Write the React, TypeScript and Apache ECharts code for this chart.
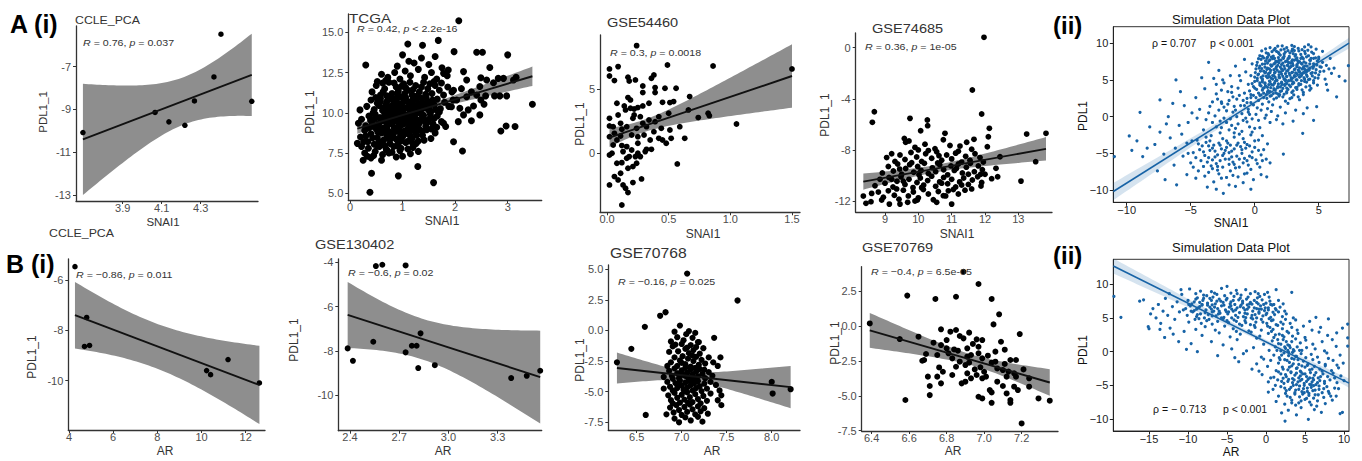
import React, { useEffect, useRef } from 'react';
import * as echarts from 'echarts';

// ---------------- DATA ----------------
// A(i) CCLE_PCA : SNAI1 vs PDL1_1
const A1_SNAI1 = [3.696, 4.066, 4.137, 4.219, 4.268, 4.368, 4.404, 4.562];
const A1_PDL1 = [-10.08, -9.14, -9.58, -9.74, -8.6, -7.48, -5.48, -8.62];

// A(i) TCGA : [SNAI1, PDL1_1]
const A2_POINTS = [
  [2.07,15.72],[1.10,14.28],[1.38,14.2],[1.68,14.5],[0.30,12.97],[1.98,13.8],[2.41,13.76],[2.52,13.76],[3.0,13.6],[3.47,10.53],
  [2.97,9.18],[2.87,8.87],[1.97,8.2],[2.14,7.63],[1.29,6.66],[0.92,6.08],[1.59,5.66],[0.38,5.06],[0.41,6.24],[0.14,8.1],
  [0.19,10.18],[0.16,9.35],[2.66,12.81],[2.16,12.56],[3.14,9.15],
  [2.49,12.18],[2.60,12.04],[2.82,12.14],[2.73,11.87],[2.92,12.14],[3.11,12.04],[3.16,12.2],[2.47,11.63],[2.58,11.05],[2.75,11.05],
  [2.85,11.05],[2.98,11.05],[2.49,10.8],[2.55,10.53],[2.35,10.42],[2.25,10.18],[2.47,9.87],[2.31,9.51],[2.16,9.87],[2.06,9.45],
  [1.78,9.35],[2.22,11.0],[2.31,11.3],[2.41,11.1],[2.12,11.5],[2.22,12.04],[1.97,11.4],[2.03,10.8],[1.93,10.38],[2.09,10.28],
  [1.87,12.66],[1.78,12.45],
  [0.6,12.4],[0.72,12.2],[0.85,12.5],[0.95,12.1],[1.05,12.6],[1.15,12.3],[1.3,12.7],[1.42,12.2],[1.55,12.5],[1.65,12.1],
  [1.75,12.8],[0.9,12.9],[1.22,13.1],[1.5,13.0],[1.36,13.4],[1.62,13.5],[1.0,13.6],[1.12,13.2],[0.68,12.0],[1.85,12.3],
  [0.42,11.3],[0.5,11.7],[0.58,11.1],[0.66,11.5],[0.74,11.9],[0.8,11.2],[0.88,11.6],[0.96,11.0],[1.02,11.8],[1.1,11.4],
  [1.18,11.1],[1.25,11.7],[1.32,11.3],[1.4,11.9],[1.48,11.5],[1.56,11.2],[1.62,11.7],[1.7,11.4],[1.78,11.1],[1.86,11.6],
  [1.94,11.3],[0.52,11.95],[0.7,11.05],[0.92,11.35],[1.06,11.55],[1.28,11.05],[1.44,11.15],[1.6,11.95],[0.62,11.85],[1.14,11.9],
  [1.36,11.6],[0.84,11.85],[1.52,11.8],[1.74,11.85],[1.2,11.45],[0.98,11.65],
  [0.32,10.4],[0.4,10.8],[0.46,10.2],[0.52,10.6],[0.58,10.9],[0.64,10.3],[0.7,10.7],[0.76,10.1],[0.82,10.5],[0.88,10.9],
  [0.94,10.2],[1.0,10.6],[1.06,10.95],[1.12,10.35],[1.18,10.75],[1.24,10.15],[1.3,10.55],[1.36,10.9],[1.42,10.3],[1.48,10.7],
  [1.54,10.1],[1.6,10.5],[1.66,10.85],[1.72,10.25],[1.8,10.65],[1.88,10.4],[1.96,10.8],[0.55,10.45],[0.67,10.05],[0.79,10.85],
  [0.91,10.6],[1.03,10.25],[1.15,10.1],[1.27,10.85],[1.39,10.6],[1.51,10.45],[1.63,10.2],[0.73,10.4],[0.97,10.45],[1.21,10.5],
  [1.45,10.95],[0.49,10.95],[0.85,10.25],[1.09,10.7],[1.33,10.25],[1.57,10.8],
  [0.22,9.6],[0.3,9.2],[0.36,9.8],[0.42,9.4],[0.48,9.9],[0.54,9.1],[0.6,9.5],[0.66,9.85],[0.72,9.25],[0.78,9.65],
  [0.84,9.05],[0.9,9.45],[0.96,9.9],[1.02,9.3],[1.08,9.7],[1.14,9.1],[1.2,9.55],[1.26,9.95],[1.32,9.35],[1.38,9.75],
  [1.44,9.15],[1.5,9.6],[1.58,9.3],[1.66,9.8],[1.74,9.45],[1.82,9.15],[0.45,9.15],[0.57,9.7],[0.69,9.4],[0.81,9.95],
  [0.93,9.2],[1.05,9.5],[1.17,9.85],[1.29,9.15],[1.41,9.5],[0.63,9.05],[0.87,9.75],[1.11,9.35],[1.35,9.95],[0.75,9.5],
  [0.99,9.6],[1.23,9.25],[0.39,9.55],[1.53,9.9],
  [0.2,8.5],[0.28,8.9],[0.34,8.2],[0.4,8.7],[0.46,8.05],[0.52,8.45],[0.58,8.85],[0.64,8.3],[0.7,8.6],[0.76,8.1],
  [0.82,8.75],[0.88,8.35],[0.94,8.95],[1.0,8.5],[1.06,8.15],[1.12,8.7],[1.18,8.4],[1.24,8.9],[1.3,8.25],[1.38,8.6],
  [1.46,8.95],[1.54,8.4],[1.62,8.75],[0.55,8.15],[0.67,8.95],[0.79,8.45],[0.91,8.05],[1.03,8.85],[1.15,8.55],[1.27,8.6],
  [0.43,8.45],[0.73,8.85],[0.97,8.25],[1.09,8.95],[1.2,8.05],
  [0.22,7.9],[0.28,7.5],[0.35,7.8],[0.4,7.2],[0.48,7.6],[0.56,7.9],[0.62,7.4],[0.7,7.7],[0.8,7.55],[0.9,7.95],
  [1.0,7.3],[1.1,7.75],[1.2,7.85],[1.3,7.6],[0.25,7.05],[0.45,7.35],[0.66,7.95],[0.95,7.65],[1.15,7.45],[0.33,7.3]
];
const A2_CORE = [
  [0.5,9.0],[0.55,9.35],[0.6,8.75],[0.62,10.15],[0.65,9.6],[0.68,10.5],[0.7,9.05],[0.72,8.45],[0.74,9.85],[0.77,10.25],
  [0.8,9.3],[0.82,8.6],[0.85,10.7],[0.86,9.55],[0.88,10.05],[0.9,8.85],[0.92,9.65],[0.94,10.4],[0.96,8.55],[0.98,9.25],
  [1.0,10.0],[1.01,9.4],[1.03,10.75],[1.05,8.7],[1.07,9.85],[1.08,10.3],[1.1,9.0],[1.12,9.6],[1.14,10.55],[1.16,8.9],
  [1.18,9.3],[1.2,10.2],[1.22,9.75],[1.25,8.75],[1.27,10.4],[1.29,9.55],[1.31,9.0],[1.34,10.05],[1.37,8.85],[1.4,9.85],
  [1.43,10.45],[1.46,9.35],[1.5,10.15],[1.55,9.0],[0.58,10.7],[0.63,11.3],[0.78,11.0],[0.9,11.2],[1.04,11.2],[1.22,10.95],
  [0.47,9.65],[0.53,8.8],[0.6,8.2],[0.69,7.7],[0.83,7.9],[0.97,7.8],[1.11,8.25],[1.26,8.1],[1.41,8.3],[1.6,9.65],
  [1.7,10.05],[1.65,9.1],[0.44,10.0],[0.36,9.05],[0.3,8.55],[0.26,8.2],[0.52,7.95],[0.74,7.5],[0.88,7.25],[0.6,7.05]
];

// A(i) GSE54460
const A3_POINTS = [
  [0.02,6.59],[0.02,6.04],[0.09,6.77],[0.06,5.68],[0.02,2.73],[0.02,2.14],[0.02,1.3],[0.24,8.41],[0.49,6.9],[0.86,6.82],
  [1.50,6.59],[1.05,2.29],[0.56,5.08],[0.67,4.43],[0.54,4.04],[0.66,3.39],[0.74,2.79],[0.82,3.13],[0.83,2.94],[0.63,1.17],
  [0.57,-0.83],[0.12,-4.04],[0.02,-2.47],[0.15,-2.73],[0.17,-3.07],[0.21,-2.29],[0.28,-2.0],[0.45,3.98],[0.5,3.13],[0.45,1.04],
  [0.48,0.78],[0.36,0.31],[0.31,0.13],[0.38,6.12],[0.36,5.86],[0.39,5.13],[0.39,4.74],[0.29,5.26],[0.23,5.73],[0.17,5.94],
  [0.18,5.65],[0.34,3.91],[0.29,3.7],[0.25,3.57],[0.22,3.46],[0.19,3.52],[0.15,3.39],[0.17,4.35],[0.14,3.7],[0.09,2.99],
  [0.11,2.34],[0.12,1.88],[0.16,2.08],[0.24,1.95],[0.29,2.34],[0.32,2.08],[0.39,2.47],[0.3,1.43],[0.25,1.3],[0.2,1.43],
  [0.06,1.56],[0.08,1.04],[0.12,0.6],[0.16,0.52],[0.2,0.26],[0.25,0.0],[0.23,-0.26],[0.16,-0.39],[0.12,-0.73],[0.08,-0.78],
  [0.17,-1.17],[0.21,-1.04],[0.11,-1.56],[0.06,-1.82],[0.09,-2.08],[0.13,0.13],[0.04,0.0],[0.02,-0.13],[0.32,0.31],[0.27,-0.26],
  [0.35,1.04],[0.38,1.69],[0.42,1.17],[0.44,1.95],[0.51,1.82],[0.52,1.17],[0.59,2.08],[0.51,3.96],[0.27,2.86],[0.21,2.73],
  [0.34,2.6],[0.05,0.65],[0.25,0.78],[0.11,1.35],[0.18,-0.26],[0.24,-0.78],[0.13,-2.47],[0.19,4.17],[0.22,2.99],[0.29,4.74],
  [0.08,3.91],[0.05,2.08],[0.42,2.86],[0.47,5.08]
];

// A(i) GSE74685
const A4_POINTS = [
  [11.97,0.81],[11.62,-3.31],[8.68,-5.01],[8.62,-5.84],[9.75,-5.53],[11.9,-5.19],[12.13,-6.31],[12.1,-6.97],[11.67,-7.17],[10.27,-5.66],
  [10.28,-6.1],[10.07,-6.5],[10.8,-6.7],[9.58,-7.1],[9.72,-7.3],[13.83,-6.7],[13.25,-6.76],[13.52,-8.92],[13.08,-10.44],[12.33,-9.44],
  [12.38,-10.1],[12.45,-8.53],[12.07,-7.75],[11.87,-9.91],[11.88,-10.83],[11.0,-12.24],[10.75,-11.58],[8.35,-11.61],[8.43,-12.18],[8.6,-11.4],
  [8.58,-12.05],[8.9,-11.92],[9.13,-12.24],[9.45,-12.24],[9.68,-12.1],[9.97,-11.92],
  [9.62,-7.4],[9.9,-7.8],[10.2,-7.55],[10.5,-7.9],[10.75,-7.2],[10.95,-7.65],[11.25,-7.7],[11.45,-7.4],[11.6,-7.95],[10.0,-8.0],
  [9.05,-8.6],[9.3,-8.9],[9.45,-8.4],[9.6,-8.75],[9.78,-8.2],[9.95,-8.55],[10.1,-8.9],[10.22,-8.3],[10.4,-8.65],[10.55,-8.15],
  [10.7,-8.8],[10.85,-8.4],[11.0,-8.7],[11.12,-8.25],[11.3,-8.95],[11.42,-8.5],[11.55,-8.8],[11.7,-8.3],[11.85,-8.6],[11.95,-8.95],
  [9.2,-8.3],[10.3,-8.05],[11.2,-8.1],[10.62,-8.45],
  [8.92,-9.8],[9.1,-9.3],[9.25,-9.65],[9.38,-9.1],[9.5,-9.9],[9.62,-9.45],[9.74,-9.15],[9.86,-9.75],[9.98,-9.3],[10.08,-9.6],
  [10.18,-9.05],[10.3,-9.85],[10.42,-9.4],[10.52,-9.7],[10.64,-9.15],[10.76,-9.55],[10.88,-9.95],[10.98,-9.25],[11.08,-9.6],[11.2,-9.1],
  [11.32,-9.8],[11.44,-9.35],[11.56,-9.05],[11.68,-9.7],[11.8,-9.25],[11.92,-9.55],[12.0,-9.9],[9.44,-9.5],[10.02,-9.95],[10.58,-9.02],
  [11.14,-9.45],[11.5,-9.9],[9.8,-9.0],
  [8.7,-10.8],[8.85,-10.3],[9.0,-10.6],[9.12,-10.15],[9.24,-10.9],[9.36,-10.45],[9.48,-10.1],[9.6,-10.7],[9.72,-10.3],[9.84,-10.95],
  [9.96,-10.55],[10.06,-10.2],[10.16,-10.75],[10.28,-10.4],[10.4,-10.05],[10.52,-10.85],[10.64,-10.5],[10.76,-10.15],[10.88,-10.65],[11.0,-10.3],
  [11.12,-10.9],[11.24,-10.5],[11.36,-10.2],[11.5,-10.7],[11.62,-10.35],[11.78,-10.1],[11.9,-10.55],[9.2,-10.3],[9.55,-10.45],[10.1,-10.95],
  [10.7,-10.6],[11.3,-10.75],[12.2,-10.25],
  [8.8,-11.3],[8.95,-11.7],[9.1,-11.2],[9.28,-11.55],[9.42,-11.85],[9.55,-11.15],[9.7,-11.6],[9.85,-11.3],[10.0,-11.75],[10.15,-11.1],
  [10.3,-11.45],[10.45,-11.9],[10.6,-11.25],[10.82,-11.6],[11.05,-11.1],[11.2,-11.45],[11.4,-11.15],[9.35,-11.05],[10.9,-11.2],[11.6,-11.05],
  [9.9,-12.0],[10.55,-12.1]
];

// A(ii) simulation : [SNAI1, PDL1]
const A5_POINTS = [
  [1.2,9.4],[1.8,9.6],[2.3,9.2],[2.9,9.7],[3.4,9.3],[3.9,9.5],[2.6,9.0],[1.5,9.1],[4.2,9.8],[3.1,9.0],
  [0.4,8.3],[0.9,8.7],[1.3,8.1],[1.7,8.9],[2.0,8.4],[2.4,8.8],[2.7,8.2],[3.0,8.6],[3.3,8.0],[3.6,8.5],
  [3.9,8.9],[4.2,8.3],[4.6,8.6],[5.0,8.1],[1.1,8.4],[2.2,8.0],[2.9,8.95],[3.7,8.1],[0.7,8.0],[1.9,8.6],
  [0.2,7.4],[0.5,7.8],[0.8,7.2],[1.1,7.6],[1.4,7.9],[1.6,7.3],[1.9,7.7],[2.1,7.1],[2.4,7.5],[2.6,7.9],
  [2.8,7.3],[3.1,7.7],[3.3,7.1],[3.5,7.5],[3.8,7.9],[4.0,7.3],[4.3,7.7],[4.6,7.2],[4.9,7.6],[5.3,7.4],
  [1.25,7.05],[2.25,7.95],[3.0,7.0],[3.65,7.25],[4.4,7.95],[0.95,7.95],[2.9,7.55],[1.75,7.5],[4.75,8.0],[5.6,7.0],
  [0.1,6.5],[0.4,6.9],[0.7,6.2],[1.0,6.6],[1.2,6.0],[1.5,6.4],[1.7,6.8],[1.9,6.1],[2.1,6.5],[2.3,6.9],
  [2.5,6.2],[2.7,6.6],[2.9,6.0],[3.1,6.4],[3.3,6.8],[3.5,6.1],[3.7,6.5],[3.9,6.9],[4.1,6.2],[4.3,6.6],
  [4.5,6.0],[4.8,6.4],[5.1,6.8],[5.4,6.2],[0.55,6.55],[1.35,6.95],[2.2,6.3],[2.85,6.85],[3.4,6.35],[4.0,6.05],
  [4.6,6.85],[1.6,6.05],[2.6,6.95],[3.8,6.7],[5.8,6.5],
  [0.0,5.4],[0.3,5.8],[0.6,5.1],[0.9,5.5],[1.1,5.9],[1.3,5.2],[1.5,5.6],[1.7,5.0],[1.9,5.4],[2.1,5.8],
  [2.3,5.1],[2.5,5.5],[2.7,5.9],[2.9,5.2],[3.1,5.6],[3.3,5.0],[3.5,5.4],[3.7,5.8],[3.9,5.1],[4.1,5.5],
  [4.4,5.9],[4.7,5.3],[5.0,5.7],[0.8,5.95],[1.6,5.35],[2.4,5.0],[3.2,5.95],[4.2,5.05],[-0.3,5.6],[5.5,5.1],
  [-0.2,4.5],[0.2,4.9],[0.5,4.2],[0.8,4.6],[1.0,4.0],[1.3,4.4],[1.6,4.8],[1.8,4.1],[2.1,4.5],[2.4,4.9],
  [2.7,4.3],[3.0,4.7],[3.3,4.0],[3.6,4.4],[3.9,4.8],[4.3,4.2],[4.6,4.6],[1.15,4.85],[2.0,4.05],[2.85,4.95],
  [0.6,4.75],[4.9,4.3],
  [-0.4,3.5],[0.0,3.9],[0.3,3.2],[0.6,3.6],[0.9,3.0],[1.2,3.4],[1.5,3.8],[1.8,3.1],[2.1,3.5],[2.5,3.9],
  [2.9,3.3],[3.3,3.7],[3.8,3.0],[4.3,3.6],[0.75,3.95],[1.65,3.25],[2.3,3.05],
  [-0.6,2.5],[-0.1,2.9],[0.3,2.2],[0.7,2.6],[1.1,2.0],[1.5,2.4],[1.9,2.8],[2.4,2.1],[2.9,2.6],[3.5,2.3],
  [0.5,2.95],[1.3,2.85],
  [-0.8,1.5],[-0.3,1.9],[0.2,1.2],[0.6,1.7],[1.0,1.1],[1.4,1.6],[2.0,1.3],[2.6,1.8],[3.2,0.9],[-0.5,0.6],
  [0.1,0.3],[0.5,0.9],[0.9,0.2],[1.3,0.7],[1.8,0.1],[2.4,0.5],[0.3,-0.5],[0.8,-0.2],[1.2,-0.8],[1.7,-0.4],
  [2.2,-1.0],[-0.2,-0.3],[4.1,1.2],[3.8,0.4],[4.84,1.36],[3.0,-0.6],
  [6.4,2.7],[7.06,4.86],[7.32,6.95],[5.9,7.95],[6.0,5.9],[5.3,8.9],[6.2,6.6],[5.6,4.4],[4.4,9.5],[5.7,3.6],
  [6.6,5.5],[3.75,-2.27],[2.24,-5.1],[4.6,-0.5],
  [-3.6,7.4],[-4.14,5.3],[-3.2,5.2],[-2.8,6.3],[-2.4,4.6],[-1.9,5.6],[-1.5,6.9],[-1.1,4.9],[-0.7,6.1],[-2.1,3.4],
  [-1.7,2.7],[-1.3,3.9],[-0.9,2.2],[-2.6,2.0],[-3.0,3.1],[-3.5,1.4],[-2.2,0.8],[-1.6,1.4],[-1.0,0.4],[-2.58,1.8],
  [-3.1,0.1],[-2.7,-0.6],[-1.9,-0.3],[-1.3,-1.0],[-0.6,-0.7],[-3.8,-0.4],[-4.3,1.0],[-4.6,2.6],[-2.5,5.0],[-0.5,4.4],
  [-1.8,4.1],[-0.2,7.2],[-0.8,7.8],[-3.9,3.8],[-4.9,0.5],[-5.2,-0.8],[-0.4,-1.4],[-1.5,-1.6],
  [-4.5,-3.2],[-4.1,-4.0],[-3.8,-3.5],[-3.5,-4.6],[-3.2,-3.9],[-2.9,-5.2],[-2.6,-4.4],[-2.3,-5.8],[-2.0,-4.9],[-1.7,-6.2],
  [-1.4,-5.4],[-1.1,-4.1],[-0.8,-5.7],[-0.5,-6.6],[-0.2,-4.8],[0.1,-5.9],[0.4,-6.9],[0.7,-4.5],[-3.0,-6.4],[-3.6,-5.6],
  [-4.2,-6.0],[-2.5,-6.9],[-1.9,-7.4],[-1.2,-6.9],[-0.6,-7.7],[-2.2,-3.3],[-1.6,-2.8],[-0.9,-3.0],[-0.3,-2.5],[0.3,-3.2],
  [-3.4,-2.6],[-2.7,-2.2],[-4.8,-4.9],[-5.3,-3.6],[-5.0,-6.3],[-4.4,-7.4],[-3.9,-8.1],[-3.2,-8.9],[-2.45,-10.45],[-2.0,-9.3],
  [-0.9,-9.0],[0.94,-8.2],[0.5,-7.9],[-1.3,-8.2],[-2.8,-7.8],[1.2,-6.3],[1.0,-3.7],[-5.6,-5.4],[-6.1,-9.3],[-7.0,-8.6],
  [-3.3,-7.1],[-4.6,-8.4],[-1.0,-2.0],[0.0,-1.6],[-2.0,-1.8],[-3.0,-1.4],[-5.7,-2.4],[-6.2,-4.3],[-0.1,-8.6],[-3.7,-9.6],
  [-10.96,-5.45],[-9.8,-2.64],[-9.6,-4.6],[-8.96,0.59],[-8.75,-5.45],[-8.2,-1.4],[-7.4,-2.1],[-7.4,2.27],[-6.75,0.0],[-6.15,5.0],
  [-7.8,-3.8],[-7.1,-5.1],[-6.6,-2.9],[-6.3,-6.6],[-5.9,-1.2],[-5.5,1.5],[-6.9,-1.0],[-8.4,-4.3],[-7.6,-7.4],[-5.8,3.4],
  [-6.4,1.8],[-9.2,-3.3],[-5.3,-7.9]
];
const A5_CORE = [
  [0.55,8.95],[0.85,9.25],[1.05,8.6],[1.35,8.85],[1.6,9.3],[1.85,8.75],[2.05,9.1],[2.3,8.55],[2.5,9.4],[2.75,8.7],
  [2.95,9.2],[3.2,8.45],[3.45,8.95],[3.7,9.15],[3.95,8.6],[4.15,9.05],[4.45,8.8],[4.8,9.2],[3.1,9.55],[2.15,9.65],
  [0.3,7.9],[0.6,8.2],[0.85,7.6],[1.0,8.1],[1.2,7.75],[1.45,8.25],[1.65,7.55],[1.85,8.05],[2.05,7.7],[2.3,8.2],
  [2.5,7.6],[2.7,8.0],[2.95,7.75],[3.15,8.25],[3.35,7.65],[3.6,7.95],[3.85,7.45],[4.05,8.15],[4.35,7.65],[4.6,7.95],
  [5.0,7.85],[1.55,7.95],[2.6,7.45],[3.25,7.85],
  [0.15,7.0],[0.35,6.6],[0.6,7.15],[0.8,6.75],[1.0,7.3],[1.15,6.5],[1.3,6.9],[1.5,7.2],[1.65,6.6],[1.8,7.0],
  [2.0,6.75],[2.2,7.3],[2.35,6.55],[2.55,7.0],[2.75,6.7],[2.95,7.25],[3.15,6.5],[3.3,6.95],[3.5,6.65],[3.7,7.15],
  [3.9,6.45],[4.1,6.9],[4.3,7.2],[4.55,6.6],[4.85,7.05],[5.2,6.75],[1.9,7.35],[2.65,7.35],[3.4,7.35],[0.95,6.45],
  [0.05,6.0],[0.25,5.7],[0.45,6.2],[0.65,5.55],[0.85,6.05],[1.05,5.75],[1.25,6.3],[1.4,5.6],[1.55,5.95],[1.75,6.35],
  [1.9,5.7],[2.05,6.1],[2.2,5.5],[2.4,5.85],[2.6,6.3],[2.75,5.65],[2.95,6.05],[3.1,5.5],[3.3,5.85],[3.45,6.25],
  [3.65,5.6],[3.85,6.0],[4.05,5.7],[4.25,6.35],[4.5,5.55],[4.75,5.95],[5.1,6.15],[1.15,5.45],[2.5,5.45],[3.55,5.45],
  [0.0,4.8],[0.2,5.2],[0.4,4.6],[0.6,5.0],[0.8,4.5],[1.0,5.3],[1.2,4.75],[1.4,5.1],[1.55,4.55],[1.75,4.95],
  [1.95,5.3],[2.1,4.7],[2.3,5.15],[2.5,4.5],[2.65,4.9],[2.85,5.3],[3.05,4.6],[3.25,5.0],[3.45,4.5],[3.65,4.9],
  [3.85,5.3],[4.05,4.7],[4.3,5.1],[4.6,4.9],[4.95,5.25],[1.85,4.45],[2.95,4.45],[0.5,5.35],
  [-0.1,4.1],[0.15,3.7],[0.4,4.3],[0.65,3.85],[0.85,4.2],[1.05,3.55],[1.25,3.95],[1.45,4.3],[1.6,3.6],[1.8,4.0],
  [2.0,3.45],[2.2,3.85],[2.35,4.25],[2.6,3.7],[2.8,4.1],[3.0,3.5],[3.2,3.95],[3.45,4.3],[3.7,3.65],[4.0,4.05],
  [4.4,3.85],[1.1,4.35],[2.5,3.4],
  [-0.3,3.0],[0.1,2.6],[0.4,2.9],[0.7,3.2],[0.95,2.5],[1.2,2.8],[1.45,3.15],[1.7,2.55],[1.95,3.0],[2.2,2.7],
  [2.5,3.25],[2.75,2.45],[3.05,2.95],[3.4,2.7],[3.8,3.3],[1.0,3.35],
  [-4.3,-4.5],[-3.9,-5.3],[-3.6,-4.0],[-3.3,-5.9],[-3.1,-4.7],[-2.8,-3.6],[-2.7,-6.0],[-2.4,-5.0],[-2.2,-4.2],[-2.0,-6.5],
  [-1.8,-5.5],[-1.6,-4.4],[-1.5,-7.0],[-1.3,-3.6],[-1.0,-5.0],[-0.9,-6.3],[-0.7,-4.3],[-0.4,-5.4],[-0.3,-7.2],[0.0,-4.2],
  [0.2,-6.4],[0.5,-5.2],[-3.4,-6.7],[-2.9,-7.3],[-4.0,-6.8],[-4.6,-5.6],[-2.5,-3.0],[-1.9,-3.9],[-1.2,-2.4],[-0.6,-3.8],
  [0.6,-2.6],[0.9,-5.8],[-3.8,-2.8],[-4.9,-3.3],[-2.2,-8.3],[-1.5,-9.5],[-0.3,-9.9],[-3.0,-9.9],
  [-2.9,2.4],[-2.4,1.3],[-2.0,2.2],[-1.7,0.6],[-1.4,2.4],[-1.1,1.5],[-0.8,3.2],[-0.5,1.0],[-0.3,2.6],[-2.2,-0.8],
  [-1.4,0.0],[-0.7,-0.2],[-3.3,2.0],[-2.6,3.6],[-1.8,3.3]
];
const A5_LOWER = [
  [-4.4,-3.7],[-4.0,-4.8],[-3.7,-6.2],[-3.5,-3.3],[-3.3,-4.3],[-3.1,-5.5],[-2.9,-6.8],[-2.7,-3.9],[-2.5,-5.3],[-2.3,-4.6],
  [-2.1,-3.6],[-2.0,-5.8],[-1.8,-4.7],[-1.6,-6.5],[-1.4,-3.9],[-1.2,-5.8],[-1.0,-4.5],[-0.8,-3.5],[-0.6,-6.0],[-0.4,-4.0],
  [-0.2,-5.6],[0.0,-3.3],[0.3,-4.6],[0.6,-6.0],[-2.6,-8.4],[-1.7,-8.0],[-0.8,-7.8],[-3.6,-7.6],[-4.8,-6.9],[-5.2,-5.0],
  [-2.8,0.9],[-2.4,-0.2],[-2.1,1.7],[-1.8,-1.2],[-1.5,0.9],[-1.2,2.9],[-0.9,-0.5],[-0.6,1.9],[-0.4,0.3],[-0.1,1.6],
  [-3.6,0.5],[-3.3,-0.8],[-4.0,-1.8],[-4.5,-0.2],[-1.6,-2.2],[-0.2,-2.1],[0.4,-1.5],[-2.6,-1.5],[-3.0,4.4],[-1.2,5.6]
];

// B(i) CCLE_PCA : AR vs PDL1_1
const B1_AR = [4.27, 4.8, 4.7, 4.93, 10.23, 10.41, 11.2, 12.62];
const B1_PDL1 = [-5.47, -7.49, -8.64, -8.6, -9.6, -9.76, -9.16, -10.09];

// B(i) GSE130402
const B2_AR = [2.386, 2.418, 2.542, 2.558, 2.597, 2.739, 2.739, 2.777, 2.806, 2.816, 2.83, 2.917, 3.382, 3.477, 3.559];
const B2_PDL1 = [-7.89, -8.45, -7.59, -4.17, -4.11, -4.14, -8.07, -7.77, -7.77, -8.78, -7.21, -8.65, -9.23, -9.13, -8.9];

// B(i) GSE70768 : [AR, PDL1_1]
const B3_POINTS = [
  [7.06,4.65],[7.62,2.45],[6.82,1.49],[6.76,1.2],[6.59,0.3],[6.44,-1.5],[6.28,-2.6],[6.6,-6.9],[7.36,-0.6],[7.43,-2.2],
  [7.19,-0.95],[8.0,-4.2],[8.01,-5.15],[8.21,-4.8],
  [6.92,-0.1],[6.98,0.4],[7.05,-0.3],[7.08,-0.05],[7.12,-0.6],[7.02,-0.8],[6.95,-0.55],[7.15,-0.2],[6.88,-0.9],[7.18,-0.95],
  [6.9,-1.3],[6.96,-1.7],[7.0,-1.1],[7.04,-1.5],[7.08,-1.85],[7.1,-1.2],[7.13,-1.6],[7.16,-1.35],[6.86,-1.75],[7.2,-1.9],
  [7.24,-1.45],[6.93,-1.15],[7.06,-1.4],
  [6.88,-2.6],[6.92,-2.2],[6.95,-2.9],[6.98,-2.45],[7.01,-2.1],[7.04,-2.75],[7.07,-2.3],[7.1,-2.95],[7.13,-2.5],[7.16,-2.15],
  [7.19,-2.8],[7.22,-2.4],[7.26,-2.7],[7.3,-2.2],[6.84,-2.9],[7.0,-2.65],[7.12,-2.05],[7.35,-2.6],[7.4,-2.9],
  [6.86,-3.3],[6.89,-3.7],[6.92,-3.1],[6.95,-3.5],[6.97,-3.9],[7.0,-3.25],[7.02,-3.65],[7.04,-3.05],[7.06,-3.45],[7.08,-3.85],
  [7.1,-3.2],[7.12,-3.6],[7.14,-3.95],[7.16,-3.35],[7.18,-3.75],[7.2,-3.15],[7.23,-3.55],[7.26,-3.9],[7.3,-3.4],[6.8,-3.8],
  [6.9,-3.95],[7.05,-3.75],[7.15,-3.05],[7.25,-3.2],[7.34,-3.7],[6.99,-3.55],
  [6.84,-4.2],[6.87,-4.6],[6.9,-4.9],[6.93,-4.3],[6.95,-4.7],[6.98,-4.1],[7.0,-4.5],[7.02,-4.85],[7.04,-4.25],[7.06,-4.65],
  [7.08,-4.05],[7.1,-4.45],[7.12,-4.9],[7.14,-4.3],[7.16,-4.7],[7.18,-4.15],[7.2,-4.55],[7.22,-4.95],[7.25,-4.35],[7.28,-4.75],
  [7.32,-4.2],[6.8,-4.75],[7.03,-4.95],[7.13,-4.1],[7.38,-4.45],[7.42,-4.9],[6.96,-4.45],
  [6.85,-5.3],[6.88,-5.7],[6.92,-5.1],[6.95,-5.5],[6.98,-5.9],[7.0,-5.25],[7.03,-5.65],[7.06,-5.05],[7.09,-5.45],[7.12,-5.85],
  [7.15,-5.2],[7.18,-5.6],[7.21,-5.95],[7.24,-5.35],[7.28,-5.75],[7.32,-5.15],[6.9,-5.95],[7.07,-5.9],[7.4,-5.7],[7.44,-5.3],
  [6.87,-6.3],[6.91,-6.7],[6.94,-6.1],[6.97,-6.5],[7.0,-6.9],[7.03,-6.25],[7.06,-6.65],[7.09,-6.05],[7.12,-6.45],[7.15,-6.85],
  [7.18,-6.2],[7.21,-6.6],[7.25,-6.35],[7.29,-6.8],[7.44,-6.1],[6.83,-6.85],
  [6.97,-7.5],[7.04,-7.1],[7.1,-7.35],[7.18,-7.05],[7.23,-7.45],[6.92,-7.2]
];

// B(i) GSE70769 : [AR, PDL1_1]
const B4_POINTS = [
  [6.39,0.18],[6.55,-0.94],[6.59,2.17],[6.58,-5.3],[6.67,-2.49],[6.65,-0.77],[6.74,1.93],[6.85,2.09],[6.89,3.88],[6.97,3.0],
  [7.04,1.93],[7.08,0.83],[7.05,0.11],[7.2,-6.98],[7.35,-5.35],[7.29,-5.19],[7.24,-4.35],[7.19,-0.58],[7.17,-2.44],[7.24,-3.75],
  [6.71,-4.3],[6.71,-4.95],[6.75,-2.08],[6.73,-1.2],[6.77,-0.24],[6.8,-1.01],[6.82,-0.41],[6.85,-0.29],[6.87,-0.72],[6.89,-0.89],
  [6.92,-0.48],[6.94,-1.29],[6.96,-0.96],[6.81,-1.96],[6.83,-2.32],[6.86,-1.77],[6.91,-1.6],[6.93,-2.08],[6.97,-1.96],[6.99,-2.32],
  [7.02,-2.13],[6.78,-3.28],[6.75,-3.63],[6.77,-4.11],[6.83,-3.51],[6.85,-2.92],[6.88,-4.11],[6.9,-3.99],[6.93,-3.75],[6.96,-3.51],
  [6.97,-5.07],[6.99,-5.19],[7.03,-4.59],[7.04,-4.76],[7.04,-5.5],[7.07,-3.99],[7.07,-3.04],[7.1,-3.16],[7.12,-3.63],[7.12,-4.83],
  [7.14,-5.3],[7.14,-5.5],[7.1,-4.3],[7.13,-3.27],[7.16,-3.39],[7.18,-4.59],[7.21,-3.11],[6.98,-2.96],[7.0,-3.28],[7.04,-2.63],
  [7.06,-2.56],[6.92,-2.63],[6.9,-2.8],[6.87,-2.56],[6.69,-2.01],[6.68,-2.44],[6.76,-2.97],[6.7,-3.63],[6.91,-2.2],[6.91,-3.39],
  [6.95,-3.11],[6.99,-3.75],[7.01,-3.63],[7.06,-1.84],[6.99,-1.01],[6.97,-1.49],[6.84,-1.68],[6.77,-1.37],[6.8,-1.6],[7.17,-3.63],
  [7.16,-4.35],[7.11,-2.72],[7.14,-2.44],[7.11,-1.7],[7.09,-1.13]
];

// B(ii) simulation : [AR, PDL1]
const B5_POINTS = [
  [-19.5,8.2],[-18.6,5.1],[-16.2,7.5],[-15.7,7.7],[-15.1,3.7],[-15.0,3.4],[-14.5,6.4],[-14.1,5.0],[-13.8,7.0],[-13.5,4.2],
  [-13.2,6.0],[-12.9,7.9],[-12.6,5.4],[-12.3,3.5],[-12.0,6.7],[-11.7,4.8],[-11.4,7.4],[-11.1,5.9],[-10.8,8.5],[-10.5,3.0],
  [-10.2,0.34],[-10.6,6.2],[-11.9,2.6],[-13.0,2.1],[-14.8,5.6],[-12.4,8.6],[-11.2,1.5],[-10.9,9.2],[-13.6,3.3],
  [-9.8,9.3],[-9.0,8.6],[-8.4,9.0],[-7.6,8.3],[-7.0,8.9],[-6.3,8.5],[-5.7,9.4],[-5.0,9.7],[-4.5,8.7],[-3.8,9.1],
  [-3.2,8.4],[-2.6,9.2],[-2.0,8.6],[-1.4,8.9],[-0.8,8.2],[-0.2,8.5],[0.4,8.1],[1.3,9.2],[3.3,8.8],[-6.8,8.1],
  [-4.1,8.2],[-1.1,8.0],[-8.8,8.0],
  [-10.0,7.6],[-9.5,7.1],[-9.0,7.8],[-8.5,7.3],[-8.0,7.9],[-7.5,7.2],[-7.0,7.6],[-6.5,7.1],[-6.0,7.8],[-5.5,7.3],
  [-5.0,7.9],[-4.5,7.4],[-4.0,7.0],[-3.5,7.7],[-3.0,7.2],[-2.5,7.8],[-2.0,7.3],[-1.5,7.6],[-1.0,7.1],[-0.5,7.7],
  [0.0,7.2],[0.5,7.5],[1.0,7.0],[-8.2,7.0],[-5.8,7.5],[-3.3,7.95],[-1.8,7.05],[1.6,7.6],[2.2,7.1],
  [-10.3,6.4],[-9.7,6.8],[-9.2,6.1],[-8.7,6.5],[-8.2,6.9],[-7.7,6.2],[-7.2,6.6],[-6.7,6.0],[-6.2,6.4],[-5.7,6.8],
  [-5.2,6.2],[-4.7,6.6],[-4.2,6.0],[-3.7,6.5],[-3.2,6.9],[-2.7,6.2],[-2.2,6.6],[-1.7,6.0],[-1.2,6.4],[-0.7,6.8],
  [-0.2,6.1],[0.3,6.5],[0.8,6.9],[1.3,6.2],[1.8,6.6],[-6.9,6.95],[-4.4,6.3],[-2.4,6.95],[-0.9,6.3],[-8.9,6.3],[2.4,6.0],
  [-10.1,5.4],[-9.4,5.9],[-8.9,5.2],[-8.4,5.6],[-7.9,5.0],[-7.4,5.5],[-6.9,5.9],[-6.4,5.3],[-5.9,5.7],[-5.4,5.1],
  [-4.9,5.6],[-4.4,5.0],[-3.9,5.4],[-3.4,5.8],[-2.9,5.2],[-2.4,5.6],[-1.9,5.0],[-1.4,5.5],[-0.9,5.9],[-0.4,5.3],
  [0.1,5.7],[0.6,5.1],[1.1,5.5],[1.6,5.9],[2.1,5.2],[2.6,5.6],[3.5,5.0],[-5.1,5.95],[-2.6,5.05],[0.9,5.85],
  [-9.9,4.4],[-9.1,4.8],[-8.3,4.2],[-7.6,4.6],[-6.9,4.1],[-6.2,4.5],[-5.5,4.9],[-4.8,4.3],[-4.1,4.7],[-3.4,4.1],
  [-2.7,4.6],[-2.0,4.0],[-1.3,4.4],[-0.6,4.8],[0.1,4.2],[0.7,4.6],[1.3,4.0],[1.9,4.4],[2.5,4.8],[3.1,4.2],
  [3.8,4.7],[-1.7,4.85],[0.4,4.9],[2.2,4.1],
  [-9.0,3.3],[-7.8,3.7],[-6.5,3.2],[-5.3,3.8],[-4.2,3.4],[-3.1,3.9],[-2.2,3.1],[-1.4,3.6],[-0.6,3.2],[0.2,3.8],
  [0.9,3.3],[1.5,3.9],[2.1,3.4],[2.7,3.0],[3.3,3.6],[4.0,3.2],[4.8,3.8],[-3.8,3.0],
  [-8.2,2.4],[-6.0,2.8],[-4.6,2.2],[-3.3,2.6],[-1.9,2.9],[-0.8,2.3],[0.3,2.7],[1.0,2.1],[1.7,2.6],[2.3,2.2],
  [2.9,2.8],[3.4,2.3],[4.1,2.7],[5.0,2.1],[-1.2,2.0],
  [-7.0,1.5],[-3.7,1.8],[-0.3,1.1],[0.8,1.6],[1.6,1.2],[2.2,1.8],[2.8,1.0],[3.3,1.5],[3.8,1.9],[4.4,1.3],
  [5.1,1.7],[6.0,1.1],[7.2,1.5],[8.5,1.8],[-9.6,1.2],[-5.5,1.0],
  [-8.8,0.0],[-4.4,0.4],[-1.6,0.6],[0.4,0.2],[1.2,0.7],[1.9,0.1],[2.5,0.5],[3.0,0.9],[3.5,0.3],[4.0,0.7],
  [4.6,0.2],[5.2,0.6],[6.3,0.4],[7.5,0.1],[9.0,0.8],[10.47,0.83],[2.8,0.2],[-2.5,0.1],
  [-6.2,-0.6],[-2.9,-0.3],[-0.6,-0.8],[1.0,-0.5],[1.7,-0.9],[2.3,-0.2],[2.9,-0.6],[3.4,-0.1],[3.9,-0.7],[4.5,-0.3],
  [5.1,-0.9],[5.8,-0.4],[6.6,-0.8],[7.8,-0.2],[9.5,-0.5],[-4.0,-0.9],
  [-3.5,-1.5],[-1.2,-1.8],[0.6,-1.3],[1.6,-1.7],[2.4,-1.2],[3.0,-1.6],[3.6,-1.1],[4.2,-1.9],[4.8,-1.4],[5.4,-1.8],
  [6.0,-1.2],[6.8,-1.6],[7.6,-1.9],[8.6,-1.3],[9.9,-1.7],[-0.3,-1.1],
  [-1.8,-2.6],[0.2,-2.2],[1.3,-2.8],[2.1,-2.3],[2.8,-2.7],[3.3,-2.1],[3.9,-2.5],[4.4,-2.9],[5.0,-2.3],[5.6,-2.7],
  [6.2,-2.2],[6.9,-2.6],[7.6,-2.1],[8.4,-2.8],[9.3,-2.4],[-0.9,-2.9],[5.3,-2.05],
  [-0.5,-3.4],[1.0,-3.8],[1.9,-3.3],[2.6,-3.7],[3.2,-3.1],[3.7,-3.5],[4.2,-3.9],[4.7,-3.3],[5.2,-3.7],[5.7,-3.1],
  [6.2,-3.5],[6.7,-3.9],[7.3,-3.3],[7.9,-3.7],[8.6,-3.2],[9.6,-3.6],[2.2,-3.95],[4.5,-3.05],[6.0,-3.95],
  [0.3,-4.5],[1.5,-4.2],[2.3,-4.7],[2.9,-4.1],[3.4,-4.6],[3.9,-4.9],[4.4,-4.3],[4.9,-4.7],[5.4,-4.1],[5.9,-4.5],
  [6.4,-4.9],[6.9,-4.3],[7.5,-4.7],[8.2,-4.2],[9.1,-4.6],[3.6,-4.2],[5.6,-4.85],[10.0,-4.3],
  [0.9,-5.6],[1.9,-5.2],[2.6,-5.8],[3.2,-5.3],[3.8,-5.7],[4.3,-5.1],[4.8,-5.5],[5.3,-5.9],[5.8,-5.3],[6.3,-5.7],
  [6.8,-5.1],[7.4,-5.5],[8.0,-5.9],[8.8,-5.4],[4.6,-5.95],[6.1,-5.05],
  [0.3,-6.0],[1.6,-6.6],[2.5,-6.2],[3.1,-6.8],[3.7,-6.3],[4.3,-6.7],[4.9,-6.1],[5.5,-6.5],[6.1,-6.9],[6.7,-6.4],
  [7.4,-6.8],[8.1,-6.2],[9.0,-6.6],[5.2,-6.95],
  [1.3,-7.4],[2.4,-7.8],[3.3,-7.2],[4.2,-7.6],[5.0,-7.1],[5.8,-7.9],[6.6,-7.3],[7.6,-7.7],[8.5,-7.2],[3.8,-7.95],
  [2.86,-8.7],[4.5,-8.3],[6.2,-8.6],[7.1,-9.0],[9.5,-9.2],[9.8,-9.0],[2.44,-10.3],[5.43,-10.05],[2.0,-9.1],[3.9,-9.4],
  [10.47,4.1],[10.47,2.06],[9.06,2.8],[8.0,4.85],[7.0,3.6],[6.4,5.1],[5.6,4.5],[9.8,3.5],[7.9,2.4],[6.8,2.9],[5.9,3.2]
];
const B5_CORE = [
  [-9.6,6.0],[-9.2,7.4],[-8.8,5.5],[-8.5,6.7],[-8.1,7.6],[-7.8,5.8],[-7.5,6.9],[-7.2,7.9],[-6.9,5.3],[-6.6,6.6],
  [-6.3,7.5],[-6.0,6.0],[-5.7,5.0],[-5.4,6.9],[-5.1,7.7],[-4.8,5.9],[-4.5,6.8],[-4.2,7.6],[-3.9,6.2],[-3.6,5.1],
  [-3.3,6.7],[-3.0,7.5],[-2.7,5.7],[-2.4,6.3],[-2.1,7.1],[-1.8,5.4],[-1.5,6.5],[-1.2,7.3],[-0.9,5.7],[-0.6,6.3],
  [-0.3,7.0],[0.0,5.5],[0.3,6.2],[0.6,7.0],[0.9,4.7],[1.2,6.4],[-8.6,4.9],[-7.3,4.8],[-6.1,5.6],[-5.0,4.6],
  [-3.8,4.5],[-2.6,4.3],[-1.5,3.9],[-0.4,4.4],[0.5,3.6],[-9.9,7.0],[-8.0,8.4],[-6.6,8.7],[-5.3,8.3],[-3.7,8.6],
  [-2.3,8.1],[-1.0,8.6],[0.2,8.8],[-4.6,7.1],[-7.0,6.3],[-2.9,6.5],[-1.2,5.0],[-0.1,6.5],
  [0.7,3.0],[1.2,2.5],[1.5,1.8],[1.9,1.1],[2.1,2.4],[2.4,0.7],[2.6,1.5],[2.9,-0.1],[3.1,0.6],[3.3,-1.0],
  [3.6,0.1],[3.8,-0.7],[4.1,-1.2],[4.3,0.2],[1.4,0.2],[2.0,-0.5],[2.7,-1.3],[3.5,-1.8],[4.6,-2.1],[1.8,-1.2],
  [2.2,-2.6],[2.5,-3.4],[2.8,-4.4],[3.0,-5.6],[3.2,-3.0],[3.4,-4.0],[3.5,-5.0],[3.7,-6.1],[3.9,-3.2],[4.1,-4.5],
  [4.2,-5.6],[4.4,-3.6],[4.6,-4.1],[4.7,-6.3],[4.9,-5.0],[5.0,-3.3],[5.2,-4.4],[5.3,-5.4],[5.5,-6.2],[5.6,-3.9],
  [5.8,-4.9],[6.0,-5.8],[6.1,-4.2],[6.3,-6.4],[6.4,-3.1],[6.6,-4.6],[6.8,-5.6],[7.0,-3.7],[7.2,-6.1],[7.5,-4.4],
  [7.8,-5.2],[8.3,-6.6],[8.8,-3.9],[9.3,-5.5],[2.7,-6.6],[3.3,-7.6],[4.5,-7.3],[5.6,-7.5],[6.5,-8.1],[3.0,-2.3],
  [4.0,-2.4],[5.9,-2.6],[7.2,-2.9],[8.0,-1.0],[9.1,-2.0],[1.6,-3.0],[1.2,-5.0],[0.6,-3.9],[2.0,-4.4],[2.4,-5.4]
];

// tick labels
const A1_XT = ['3.9', '4.1', '4.3'];
const A1_YT = ['-13', '-11', '-9', '-7'];
const A2_XT = ['0', '1', '2', '3'];
const A2_YT = ['5.0', '7.5', '10.0', '12.5', '15.0'];
const A3_XT = ['0.0', '0.5', '1.0', '1.5'];
const A3_YT = ['0', '5'];
const A4_XT = ['9', '10', '11', '12', '13'];
const A4_YT = ['-12', '-8', '-4', '0'];
const A5_XT = ['-10', '-5', '0', '5'];
const A5_YT = ['-10', '-5', '0', '5', '10'];
const B1_XT = ['4', '6', '8', '10', '12'];
const B1_YT = ['-10', '-8', '-6'];
const B2_XT = ['2.4', '2.7', '3.0', '3.3'];
const B2_YT = ['-10', '-8', '-6', '-4'];
const B3_XT = ['6.5', '7.0', '7.5', '8.0'];
const B3_YT = ['-7.5', '-5.0', '-2.5', '0.0', '2.5', '5.0'];
const B4_XT = ['6.4', '6.6', '6.8', '7.0', '7.2'];
const B4_YT = ['-7.5', '-5.0', '-2.5', '0.0', '2.5'];
const B5_XT = ['-15', '-10', '-5', '0', '5', '10'];
const B5_YT = ['-10', '-5', '0', '5', '10'];

// ---------------- helpers ----------------
const FONT = '"Liberation Sans", Arial, Helvetica, sans-serif';
const zip = (xs: number[], ys: number[]) => xs.map((x, i) => [x, ys[i]]);

function tq(df: number) {
  const z = 1.959964;
  const z3 = z ** 3, z5 = z ** 5, z7 = z ** 7;
  return z + (z3 + z) / (4 * df) + (5 * z5 + 16 * z3 + 3 * z) / (96 * df * df) +
    (3 * z7 + 19 * z5 + 17 * z3 - 15 * z) / (384 * df ** 3);
}

function fitBand(pts: number[][], x0: number, x1: number, steps = 60) {
  const n = pts.length;
  const mx = pts.reduce((s, p) => s + p[0], 0) / n;
  const my = pts.reduce((s, p) => s + p[1], 0) / n;
  let sxx = 0, sxy = 0;
  pts.forEach(p => { sxx += (p[0] - mx) ** 2; sxy += (p[0] - mx) * (p[1] - my); });
  const b = sxy / sxx, a = my - b * mx;
  let sse = 0;
  pts.forEach(p => { sse += (p[1] - a - b * p[0]) ** 2; });
  const s = Math.sqrt(sse / (n - 2));
  const t = tq(n - 2);
  const upper: number[][] = [], lower: number[][] = [];
  for (let i = 0; i <= steps; i++) {
    const x = x0 + (x1 - x0) * i / steps;
    const yh = a + b * x;
    const se = s * Math.sqrt(1 / n + (x - mx) ** 2 / sxx);
    upper.push([x, yh + t * se]);
    lower.push([x, yh - t * se]);
  }
  return { a, b, upper, lower };
}

type Panel = {
  pts: number[][];
  box: number[]; // left, top, right, bottom
  xr: number[]; yr: number[];
  xt: string[]; yt: string[];
  kind: 'gg' | 'sim';
  size: number;
};

const panels: Panel[] = [
  { pts: zip(A1_SNAI1, A1_PDL1), box: [76, 26, 258, 201], xr: [3.6605, 4.594], yr: [-13.28, -5.097], xt: A1_XT, yt: A1_YT, kind: 'gg', size: 5.5 },
  { pts: A2_POINTS.concat(A2_CORE), box: [348.3, 14, 541.7, 200], xr: [-0.032, 3.647], yr: [4.58, 16.14], xt: A2_XT, yt: A2_YT, kind: 'gg', size: 7 },
  { pts: A3_POINTS, box: [600, 35, 800, 212.3], xr: [-0.057, 1.565], yr: [-4.61, 9.24], xt: A3_XT, yt: A3_YT, kind: 'gg', size: 5.8 },
  { pts: A4_POINTS, box: [855.7, 33, 1052, 212.3], xr: [8.121, 14.01], yr: [-12.88, 1.15], xt: A4_XT, yt: A4_YT, kind: 'gg', size: 5.8 },
  { pts: A5_POINTS.concat(A5_CORE, A5_LOWER), box: [1113.3, 26.7, 1349, 202.3], xr: [-11.047, 7.367], yr: [-11.68, 12.26], xt: A5_XT, yt: A5_YT, kind: 'sim', size: 3.2 },
  { pts: zip(B1_AR, B1_PDL1), box: [68.3, 259, 265, 430], xr: [3.968, 12.873], yr: [-11.96, -5.166], xt: B1_XT, yt: B1_YT, kind: 'gg', size: 5.5 },
  { pts: zip(B2_AR, B2_PDL1), box: [338.3, 259, 541.7, 430.7], xr: [2.329, 3.568], yr: [-11.61, -3.85], xt: B2_XT, yt: B2_YT, kind: 'gg', size: 6 },
  { pts: B3_POINTS, box: [608.3, 265, 800, 430], xr: [6.184, 8.314], yr: [-8.13, 5.35], xt: B3_XT, yt: B3_YT, kind: 'gg', size: 6.2 },
  { pts: B4_POINTS, box: [861.7, 266.7, 1058, 431], xr: [6.347, 7.394], yr: [-7.52, 4.24], xt: B4_XT, yt: B4_YT, kind: 'gg', size: 6 },
  { pts: B5_POINTS.concat(B5_CORE), box: [1113.3, 259.3, 1349, 431], xr: [-19.58, 10.64], yr: [-11.78, 13.71], xt: B5_XT, yt: B5_YT, kind: 'sim', size: 3.2 },
];

const BLUE = '#1763a6';

function txt(text: string, x: number, y: number, size: number, o: any = {}) {
  const color = o.color || '#333333';
  const align = o.rot ? 'center' : (o.align || 'left');
  return {
    type: 'text', x, y, rotation: o.rot || 0, scaleX: o.sx || 1, z: 100, silent: true,
    style: {
      text, fill: color, fontSize: size, fontFamily: FONT, fontWeight: o.bold ? 'bold' : 'normal',
      align, verticalAlign: 'middle', textAlign: align, textVerticalAlign: 'middle',
      rich: { i: { fontStyle: 'italic', fontSize: size, fontFamily: FONT, fill: color, color } },
    },
  };
}

function buildOption() {
  const grid: any[] = [], xAxis: any[] = [], yAxis: any[] = [], series: any[] = [];
  panels.forEach((p, i) => {
    const sim = p.kind === 'sim';
    const axColor = sim ? '#222222' : '#333333';
    const lblColor = sim ? '#222222' : '#4d4d4d';
    grid.push({
      left: p.box[0], top: p.box[1], width: p.box[2] - p.box[0], height: p.box[3] - p.box[1],
      show: sim, borderColor: '#333333', borderWidth: 1, backgroundColor: 'transparent',
      containLabel: false, outerBoundsMode: 'none',
    });
    const mkAxis = (labels: string[], r: number[], isX: boolean) => {
      const vals = labels.map(Number);
      return {
        type: 'value', gridIndex: i, min: r[0], max: r[1], position: isX ? 'bottom' : 'left',
        axisLine: { show: true, onZero: false, lineStyle: { color: axColor, width: sim ? 1 : 1.3 } },
        axisTick: { show: true, length: sim ? 3.5 : 3, customValues: vals, lineStyle: { color: axColor } },
        axisLabel: {
          show: true, customValues: vals, fontSize: 11, color: lblColor, fontFamily: FONT,
          margin: isX ? (sim ? 2 : 1) : 5,
          formatter: (v: number) => {
            let best = labels[0], bd = Infinity;
            labels.forEach((l, k) => { const d = Math.abs(vals[k] - v); if (d < bd) { bd = d; best = l; } });
            return sim ? best.replace('-', '\u2212') : best;
          },
        },
        splitLine: { show: false },
      };
    };
    xAxis.push(mkAxis(p.xt, p.xr, true));
    yAxis.push(mkAxis(p.yt, p.yr, false));

    const xs = p.pts.map(q => q[0]);
    const x0 = sim ? p.xr[0] : Math.min(...xs);
    const x1 = sim ? p.xr[1] : Math.max(...xs);
    const f = fitBand(p.pts, x0, x1);
    const poly = f.upper.concat(f.lower.slice().reverse());
    series.push({
      type: 'custom', xAxisIndex: i, yAxisIndex: i, z: 1, silent: true, clip: true,
      data: [[x0, f.a + f.b * x0]],
      renderItem: (_params: any, api: any) => ({
        type: 'polygon',
        shape: { points: poly.map(q => api.coord(q)) },
        style: sim ? { fill: BLUE, opacity: 0.18 } : { fill: '#8e8e8e' },
      }),
    });
    series.push({
      type: 'scatter', xAxisIndex: i, yAxisIndex: i, z: 2, silent: true,
      data: p.pts, symbol: 'circle', symbolSize: p.size,
      itemStyle: { color: sim ? BLUE : '#000000', opacity: 1 },
    });
    series.push({
      type: 'line', xAxisIndex: i, yAxisIndex: i, z: 3, silent: true,
      data: [[x0, f.a + f.b * x0], [x1, f.a + f.b * x1]],
      symbol: 'none', showSymbol: false,
      lineStyle: { color: sim ? BLUE : '#111111', width: sim ? 1.6 : 1.9 },
    });
  });

  const R = Math.PI / 2;
  const elements = [
    // panel letters
    txt('A (i)', 10, 24, 25, { bold: true, color: '#000' }),
    txt('B (i)', 6, 264, 25, { bold: true, color: '#000' }),
    txt('(ii)', 1053, 25, 24, { bold: true, color: '#000' }),
    txt('(ii)', 1053, 255, 24, { bold: true, color: '#000' }),
    // A1
    txt('CCLE_PCA', 75, 20, 11, { sx: 1.12 }),
    txt('{i|R} = 0.76, {i|p} = 0.037', 83, 43, 9.5, { sx: 1.12 }),
    txt('PDL1_1', 43, 112, 11.5, { rot: R }),
    txt('SNAI1', 163, 221.5, 11.5, { align: 'center' }),
    // A2
    txt('TCGA', 349, 18, 13.5, { sx: 1.12 }),
    txt('{i|R} = 0.42, {i|p} < 2.2e-16', 357, 29, 9.5, { sx: 1.12 }),
    txt('PDL1_1', 310, 112, 12, { rot: R }),
    txt('SNAI1', 442, 221, 12, { align: 'center' }),
    // A3
    txt('GSE54460', 607, 23, 13, { sx: 1.12 }),
    txt('{i|R} = 0.3, {i|p} = 0.0018', 610, 53, 9.5, { sx: 1.12 }),
    txt('PDL1_1', 580, 124, 12, { rot: R }),
    txt('SNAI1', 703, 233.5, 12, { align: 'center' }),
    // A4
    txt('GSE74685', 872, 29, 13, { sx: 1.12 }),
    txt('{i|R} = 0.36, {i|p} = 1e-05', 865, 47, 9.5, { sx: 1.12 }),
    txt('PDL1_1', 825, 115, 12, { rot: R }),
    txt('SNAI1', 957, 234, 12, { align: 'center' }),
    // A5
    txt('Simulation Data Plot', 1231, 19, 13, { align: 'center', color: '#111' }),
    txt('\u03c1 = 0.707', 1152, 43, 10.5, { color: '#111' }),
    txt('p < 0.001', 1210, 43, 10.5, { color: '#111' }),
    txt('PDL1', 1083, 116, 12, { rot: R, color: '#111' }),
    txt('SNAI1', 1231, 223, 12, { align: 'center', color: '#111' }),
    // B1
    txt('CCLE_PCA', 49, 233, 11, { sx: 1.12 }),
    txt('{i|R} = \u22120.86, {i|p} = 0.011', 76, 275, 9.5, { sx: 1.12 }),
    txt('PDL1_1', 32, 357, 12, { rot: R }),
    txt('AR', 165, 450.5, 12, { align: 'center' }),
    // B2
    txt('GSE130402', 315, 245, 13, { sx: 1.12 }),
    txt('{i|R} = \u22120.6, {i|p} = 0.02', 348, 273, 9.5, { sx: 1.12 }),
    txt('PDL1_1', 294, 340, 12, { rot: R }),
    txt('AR', 443, 451, 12, { align: 'center' }),
    // B3
    txt('GSE70768', 610, 253, 14, { sx: 1.12 }),
    txt('{i|R} = \u22120.16, {i|p} = 0.025', 618, 282, 9.5, { sx: 1.12 }),
    txt('PDL1_1', 580, 360, 12, { rot: R }),
    txt('AR', 712, 450.5, 12, { align: 'center' }),
    // B4
    txt('GSE70769', 862, 248, 13, { sx: 1.12 }),
    txt('{i|R} = \u22120.4, {i|p} = 6.5e-05', 871, 272, 9.5, { sx: 1.12 }),
    txt('PDL1_1', 835, 343, 12, { rot: R }),
    txt('AR', 953, 451, 12, { align: 'center' }),
    // B5
    txt('Simulation Data Plot', 1231, 247, 13, { align: 'center', color: '#111' }),
    txt('\u03c1 = \u2212 0.713', 1153, 409, 10.5, { color: '#111' }),
    txt('p < 0.001', 1223, 409, 10.5, { color: '#111' }),
    txt('PDL1', 1083, 350, 12, { rot: R, color: '#111' }),
    txt('AR', 1231, 452, 12, { align: 'center', color: '#111' }),
  ];

  return {
    animation: false,
    backgroundColor: '#ffffff',
    textStyle: { fontFamily: FONT },
    grid, xAxis, yAxis, series,
    graphic: { elements },
  };
}

export default function App() {
  const ref = useRef<HTMLDivElement>(null);
  useEffect(() => {
    document.body.style.margin = '0';
    const chart = echarts.init(ref.current as HTMLDivElement, null, { renderer: 'svg' });
    chart.setOption(buildOption() as any);
    return () => chart.dispose();
  }, []);
  return <div ref={ref} style={{ width: 1362, height: 461, background: '#fff' }} />;
}
